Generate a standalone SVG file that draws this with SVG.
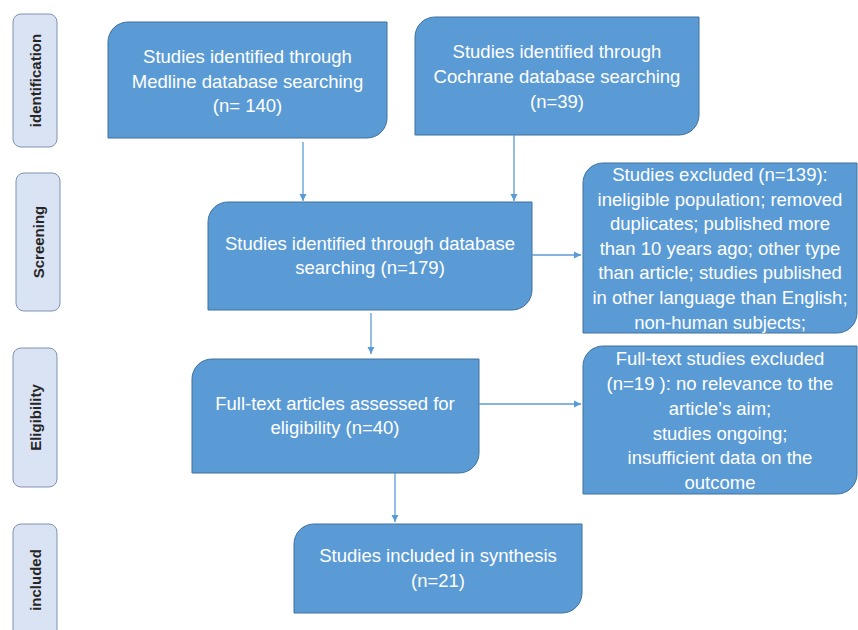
<svg xmlns="http://www.w3.org/2000/svg" width="858" height="630" viewBox="0 0 858 630">
<style>
.box{fill:#5b9bd5;stroke:#41719c;stroke-width:1}
.bt{fill:#ffffff;font-family:"Liberation Sans",Arial,sans-serif;font-size:18.5px;text-anchor:middle}
.lab{fill:#dae3f3;stroke:#7f93b0;stroke-width:1}
.lt{fill:#262626;font-family:"Liberation Sans",Arial,sans-serif;font-size:15px;font-weight:bold;text-anchor:middle}
.con{stroke:#5b9bd5;stroke-width:1.3;fill:none}
</style>
<defs>
<marker id="ah" markerUnits="userSpaceOnUse" markerWidth="8" markerHeight="8" refX="7" refY="4" orient="auto">
<path d="M0,0.5 L7,4 L0,7.5 Z" fill="#5b9bd5"/>
</marker>
</defs>
<rect width="858" height="630" fill="#ffffff"/>
<g id="label-identification">
<rect class="lab" x="13" y="14" width="44" height="133" rx="8"/>
<text class="lt" transform="translate(40.5,80.5) rotate(-90)">identification</text>
</g>
<g id="label-screening">
<rect class="lab" x="16" y="173" width="44" height="138" rx="8"/>
<text class="lt" transform="translate(43.5,242) rotate(-90)">Screening</text>
</g>
<g id="label-eligibility">
<rect class="lab" x="13" y="348" width="44" height="139" rx="8"/>
<text class="lt" transform="translate(40.5,417.5) rotate(-90)">Eligibility</text>
</g>
<g id="label-included">
<rect class="lab" x="13" y="524" width="44" height="130" rx="8"/>
<text class="lt" transform="translate(40.5,580) rotate(-90)">included</text>
</g>
<g id="medline">
<path class="box" d="M128,22 H387 V118 A20,20 0 0 1 367,138 H108 V42 A20,20 0 0 1 128,22 Z"/>
<text class="bt" x="247.5" y="63">Studies identified through</text>
<text class="bt" x="247.5" y="87.5">Medline database searching</text>
<text class="bt" x="247.5" y="112">(n= 140)</text>
</g>
<g id="cochrane">
<path class="box" d="M435,17 H699 V115 A20,20 0 0 1 679,135 H415 V37 A20,20 0 0 1 435,17 Z"/>
<text class="bt" x="557" y="58">Studies identified through</text>
<text class="bt" x="557" y="83">Cochrane database searching</text>
<text class="bt" x="557" y="108">(n=39)</text>
</g>
<g id="database">
<path class="box" d="M228,202 H532 V290 A20,20 0 0 1 512,310 H208 V222 A20,20 0 0 1 228,202 Z"/>
<text class="bt" x="370" y="250">Studies identified through database</text>
<text class="bt" x="370" y="274">searching (n=179)</text>
</g>
<g id="excluded1">
<path class="box" d="M603,163 H857 V313 A20,20 0 0 1 837,333 H583 V183 A20,20 0 0 1 603,163 Z"/>
<text class="bt" x="720" y="181">Studies excluded (n=139):</text>
<text class="bt" x="720" y="205.6">ineligible population; removed</text>
<text class="bt" x="720" y="230.2">duplicates; published more</text>
<text class="bt" x="720" y="254.8">than 10 years ago; other type</text>
<text class="bt" x="720" y="279.4">than article; studies published</text>
<text class="bt" x="720" y="304">in other language than English;</text>
<text class="bt" x="720" y="328.6">non-human subjects;</text>
</g>
<g id="fulltext">
<path class="box" d="M212,359 H479 V453 A20,20 0 0 1 459,473 H192 V379 A20,20 0 0 1 212,359 Z"/>
<text class="bt" x="335" y="410">Full-text articles assessed for</text>
<text class="bt" x="335" y="434">eligibility (n=40)</text>
</g>
<g id="excluded2">
<path class="box" d="M603,346 H857 V474 A20,20 0 0 1 837,494 H583 V366 A20,20 0 0 1 603,346 Z"/>
<text class="bt" x="720" y="365">Full-text studies excluded</text>
<text class="bt" x="720" y="390">(n=19 ): no relevance to the</text>
<text class="bt" x="720" y="415">article’s aim;</text>
<text class="bt" x="720" y="440">studies ongoing;</text>
<text class="bt" x="720" y="464">insufficient data on the</text>
<text class="bt" x="720" y="489">outcome</text>
</g>
<g id="included">
<path class="box" d="M314,524 H582 V593 A20,20 0 0 1 562,613 H294 V544 A20,20 0 0 1 314,524 Z"/>
<text class="bt" x="438" y="562">Studies included in synthesis</text>
<text class="bt" x="438" y="587">(n=21)</text>
</g>
<g id="connectors">
<line class="con" x1="303" y1="142" x2="303" y2="201" marker-end="url(#ah)"/>
<line class="con" x1="514" y1="135" x2="514" y2="201" marker-end="url(#ah)"/>
<line class="con" x1="532" y1="255" x2="581" y2="255" marker-end="url(#ah)"/>
<line class="con" x1="371" y1="313" x2="371" y2="354" marker-end="url(#ah)"/>
<line class="con" x1="479" y1="404" x2="581" y2="404" marker-end="url(#ah)"/>
<line class="con" x1="395" y1="473" x2="395" y2="522" marker-end="url(#ah)"/>
</g>
</svg>
